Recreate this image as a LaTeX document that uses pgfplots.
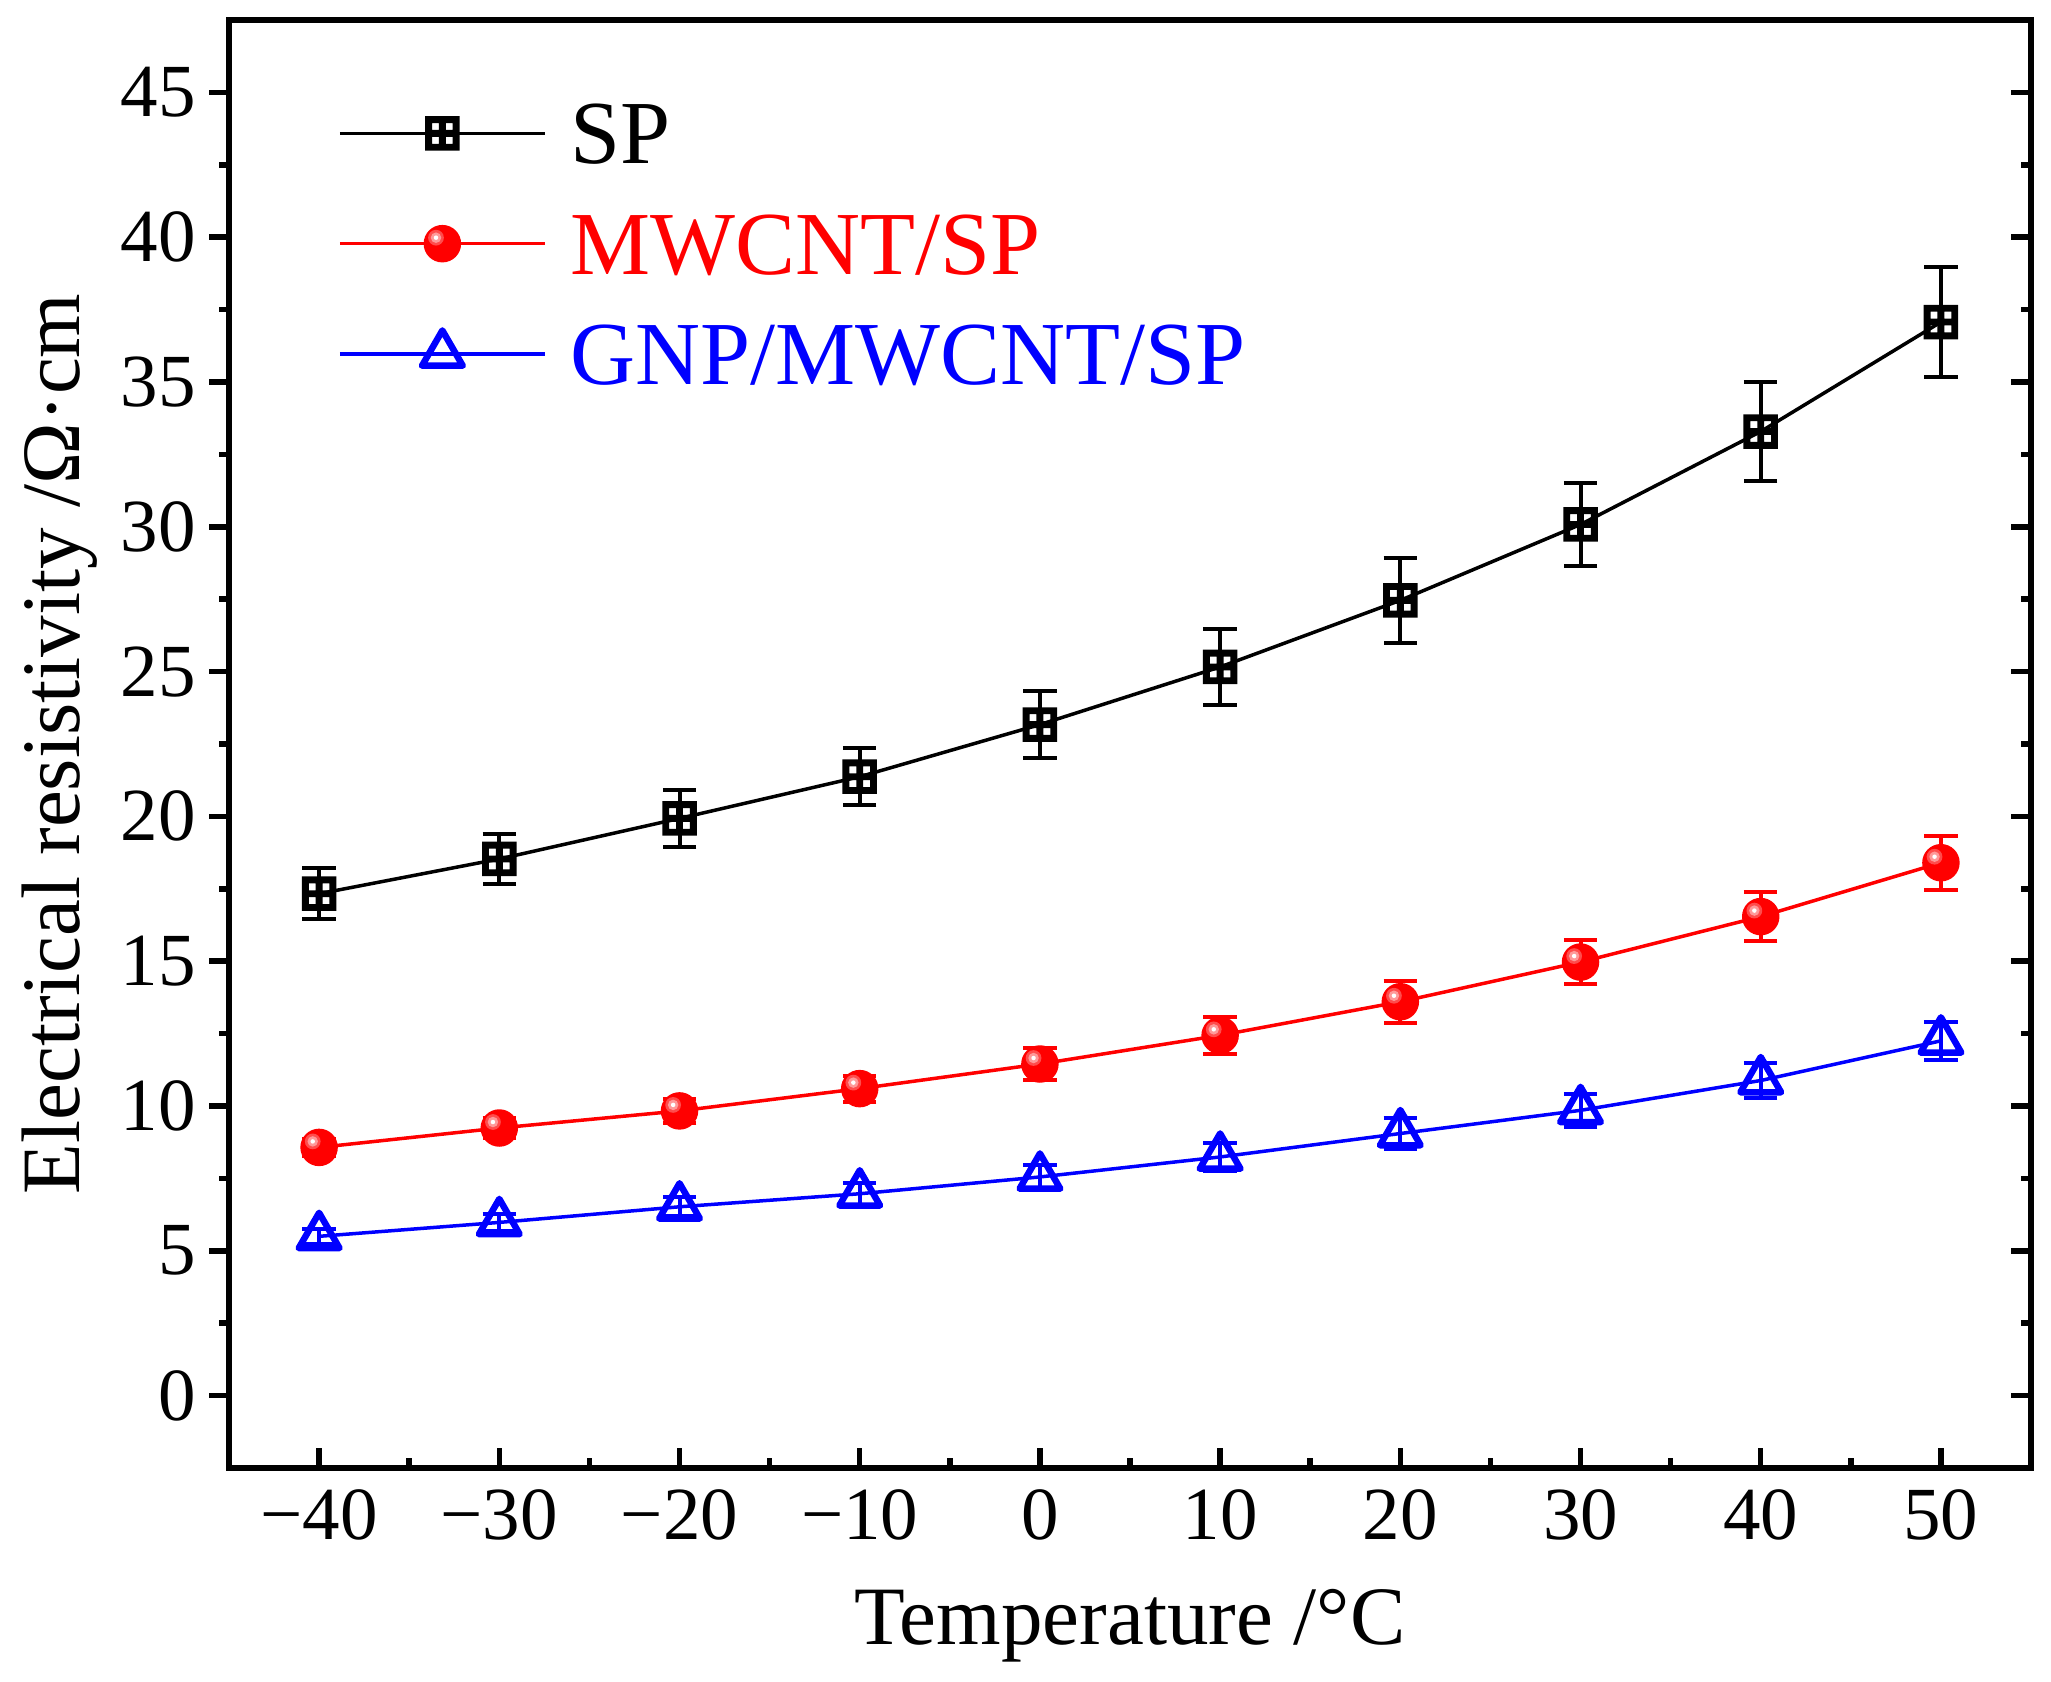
\documentclass[border=0pt]{standalone}
\usepackage{fontspec}
\setmainfont{Liberation Serif}
\usepackage{pgfplots}
\usepackage{pgfplotstable}
\pgfplotsset{compat=1.18}

\pgfdeclareplotmark{sqplus}{%
  \pgfpathrectangle{\pgfpoint{-2.5\pgfplotmarksize}{-2.5\pgfplotmarksize}}{\pgfpoint{5\pgfplotmarksize}{5\pgfplotmarksize}}%
  \pgfpathrectangle{\pgfpoint{-1.5\pgfplotmarksize}{-1.5\pgfplotmarksize}}{\pgfpoint{\pgfplotmarksize}{\pgfplotmarksize}}%
  \pgfpathrectangle{\pgfpoint{0.5\pgfplotmarksize}{-1.5\pgfplotmarksize}}{\pgfpoint{\pgfplotmarksize}{\pgfplotmarksize}}%
  \pgfpathrectangle{\pgfpoint{-1.5\pgfplotmarksize}{0.5\pgfplotmarksize}}{\pgfpoint{\pgfplotmarksize}{\pgfplotmarksize}}%
  \pgfpathrectangle{\pgfpoint{0.5\pgfplotmarksize}{0.5\pgfplotmarksize}}{\pgfpoint{\pgfplotmarksize}{\pgfplotmarksize}}%
  \pgfseteorule
  \pgfusepathqfill
  \pgfsetnonzerorule
}
\pgfdeclareplotmark{redball}{%
  \pgfsetfillcolor{red}%
  \pgfpathcircle{\pgfpointorigin}{\pgfplotmarksize}\pgfusepathqfill
  \pgfsetfillcolor{red!70!white}%
  \pgfpathcircle{\pgfpoint{-0.34\pgfplotmarksize}{0.32\pgfplotmarksize}}{0.42\pgfplotmarksize}\pgfusepathqfill
  \pgfsetfillcolor{red!40!white}%
  \pgfpathcircle{\pgfpoint{-0.34\pgfplotmarksize}{0.32\pgfplotmarksize}}{0.28\pgfplotmarksize}\pgfusepathqfill
  \pgfsetfillcolor{white}%
  \pgfpathcircle{\pgfpoint{-0.34\pgfplotmarksize}{0.32\pgfplotmarksize}}{0.12\pgfplotmarksize}\pgfusepathqfill
}

\pgfplotstableread{
x y e
-40 17.33 0.88
-30 18.53 0.85
-20 19.93 0.98
-10 21.37 0.99
0 23.17 1.15
10 25.16 1.30
20 27.46 1.47
30 30.08 1.44
40 33.29 1.72
50 37.07 1.89
}\sp
\pgfplotstableread{
x y e
-40 8.57 0.30
-30 9.24 0.35
-20 9.83 0.40
-10 10.60 0.45
0 11.45 0.55
10 12.44 0.65
20 13.60 0.72
30 14.97 0.77
40 16.54 0.85
50 18.40 0.94
}\mw
\pgfplotstableread{
x y e
-40 5.50 0.25
-30 5.98 0.30
-20 6.52 0.33
-10 6.97 0.38
0 7.55 0.42
10 8.24 0.48
20 9.05 0.52
30 9.85 0.57
40 10.88 0.60
50 12.25 0.65
}\gnp

\begin{document}
\begin{tikzpicture}
\pgfplotsset{
  common/.style={
    scale only axis, width=360.4pt, height=289.6pt,
    xmin=-45, xmax=55, ymin=-2.5, ymax=47.5,
    axis line style={line width=1.1pt, black},
    every tick/.style={line width=1.1pt, black},
    major tick length=4pt, minor tick length=2pt,
    ytick={0,5,...,45}, minor y tick num=1,
    tick label style={font=\fontsize{15}{18}\selectfont},
    /pgf/number format/assume math mode=true,
  }
}
% axis with left ticks outside and labels
\begin{axis}[common,
  tick align=outside,
  ytick pos=left,
  xtick=\empty,
  yticklabel style={inner xsep=2.4pt},
  ylabel={Electrical resistivity /Ω·cm},
  ylabel style={at={(axis description cs:-0.0827,0.5)}, anchor=base, font=\fontsize{16.6}{20}\selectfont},
]
\end{axis}
% main axis: inside ticks bottom and right, data
\begin{axis}[common, name=main,
  tick align=inside,
  xtick pos=bottom, ytick pos=right,
  yticklabels={},
  xtick={-40,-30,...,50},
  xticklabels={−40,−30,−20,−10,0,10,20,30,40,50},
  minor x tick num=1,
  xticklabel style={yshift=-0.8pt},
  xlabel={Temperature /°C},
  xlabel style={at={(axis description cs:0.5,-0.1222)}, anchor=base, font=\fontsize{16.6}{20}\selectfont},
  legend cell align=left,
  legend image code/.code={\draw[mark repeat=2,mark phase=2,#1] plot coordinates {(0pt,0pt) (20.5pt,0pt) (41pt,0pt)};},
  legend style={draw=none, fill=none, inner sep=0pt, at={(axis description cs:0.060,0.9434)}, anchor=north west,
    row sep=9.85pt, column sep=4.7pt, font=\fontsize{18}{21}\selectfont,
    nodes={inner sep=0pt, text height=12.2pt, text depth=0pt}},
]
\addplot[black, line width=0.7pt, mark=sqplus, mark size=1.38pt, mark options={fill=black, draw=none},
  error bars/.cd, y dir=both, y explicit, error bar style={line width=0.8pt, black},
  error mark options={rotate=90, mark size=3.35pt, line width=0.8pt, black}]
  table[x=x, y=y, y error=e] {\sp};
\addlegendentry{SP}
\addplot[red, line width=0.7pt, mark=redball, mark size=3.75pt,
  error bars/.cd, y dir=both, y explicit, error bar style={line width=0.8pt, red},
  error mark options={rotate=90, mark size=3.35pt, line width=0.8pt, red}]
  table[x=x, y=y, y error=e] {\mw};
\addlegendentry{\textcolor{red}{MWCNT/SP}}
\addplot[blue, line width=0.7pt, mark=triangle, mark size=4.7pt, mark options={fill=white, draw=blue, line width=1.3pt, line join=round},
  error bars/.cd, y dir=both, y explicit, error bar style={line width=0.8pt, blue},
  error mark options={rotate=90, mark size=3.35pt, line width=0.8pt, blue}]
  table[x=x, y=y, y error=e] {\gnp};
\addlegendentry{\textcolor{blue}{GNP/MWCNT/SP}}
\end{axis}
\pgfresetboundingbox
\path ([shift={(-45.8pt,-42.6pt)}]main.south west) rectangle ([shift={(4pt,4pt)}]main.north east);
\end{tikzpicture}
\end{document}
